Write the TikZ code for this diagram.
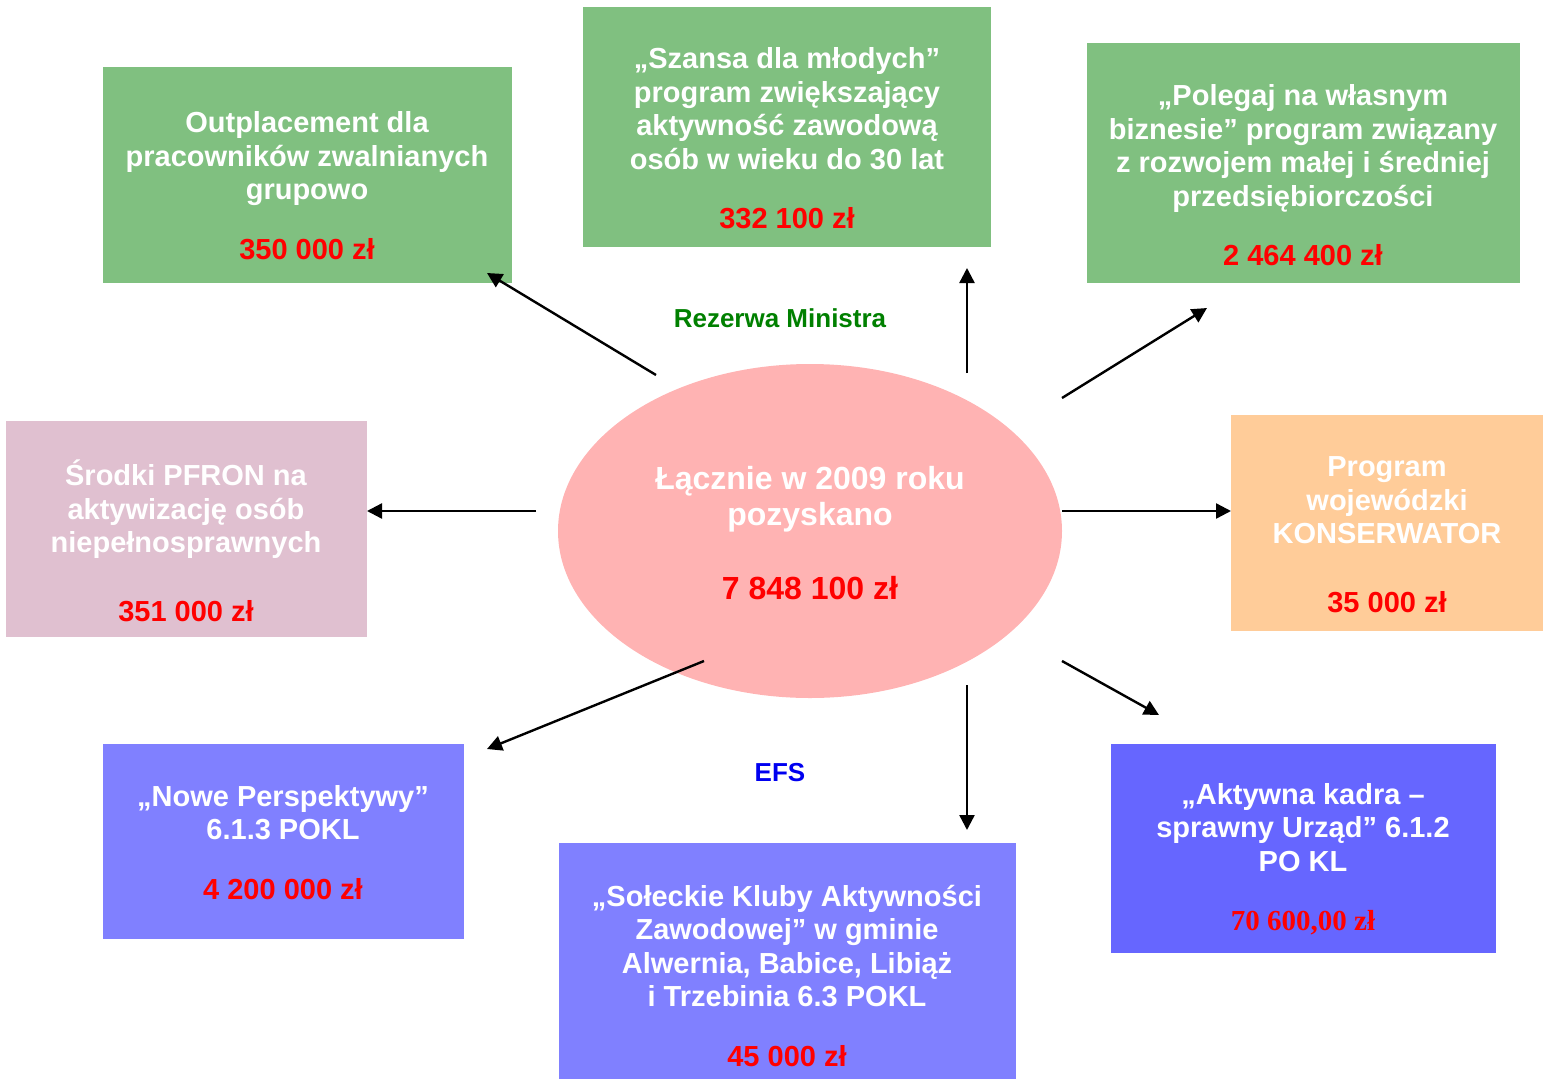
\documentclass[tikz,border=0pt]{standalone}
\usepackage{fontspec}
\setmainfont{Liberation Sans}
\newfontfamily\timesfont{Liberation Serif}
\usetikzlibrary{arrows.meta}
\usetikzlibrary{shapes.geometric,positioning}
\definecolor{boxgreen}{RGB}{128,192,128}
\definecolor{boxpink}{RGB}{224,192,208}
\definecolor{boxorange}{RGB}{255,204,153}
\definecolor{boxlilac}{RGB}{128,128,255}
\definecolor{boxblue}{RGB}{102,102,255}
\definecolor{ovalpink}{RGB}{255,179,179}
\definecolor{moneyred}{RGB}{255,0,0}
\definecolor{ministrygreen}{RGB}{0,128,0}
\definecolor{efsblue}{RGB}{0,0,240}
\tikzset{
	box/.style = {rectangle, inner sep=0pt},
	boxtext/.style = {white, align=center, inner sep=0pt, font=\fontsize{29}{33.5}\selectfont\bfseries},
	fundname/.style = {inner sep=0pt, font=\fontsize{26}{30}\selectfont\bfseries},
	flow/.style = {-{Triangle[length=15pt,width=15pt]}, line width=2.4pt}
}

\begin{document}
\begin{tikzpicture}[x=1pt,y=-1pt]
	\useasboundingbox (0,0) rectangle (1543,1079);
	% boxes
	\node[box, fill=boxgreen, minimum width=409pt, minimum height=216pt] (outpl) at (307.5,175) {};
	\node[box, fill=boxgreen, minimum width=408pt, minimum height=240pt] (szansa) at (787,127) {};
	\node[box, fill=boxgreen, minimum width=433pt, minimum height=240pt] (polegaj) at (1303.5,163) {};
	\node[box, fill=boxpink, minimum width=361pt, minimum height=216pt] (pfron) at (186.5,529) {};
	\node[box, fill=boxorange, minimum width=312pt, minimum height=216pt] (konserw) at (1387,523) {};
	\node[box, fill=boxlilac, minimum width=361pt, minimum height=195pt] (nowe) at (283.5,841.5) {};
	\node[box, fill=boxlilac, minimum width=457pt, minimum height=236pt] (soleckie) at (787.5,961) {};
	\node[box, fill=boxblue, minimum width=385pt, minimum height=209pt] (kadra) at (1303.5,848.5) {};
	\node[ellipse, fill=ovalpink, inner sep=0pt, minimum width=504pt, minimum height=334pt] (total) at (810,531) {};
	% texts
	\node[boxtext] (outpl-t) at (307,185.5) {Outplacement dla\\pracowników zwalnianych\\grupowo\\[26pt]\textcolor{moneyred}{350 000 zł}};
	\node[boxtext] (szansa-t) at (787,138.5) {„Szansa dla młodych”\\program zwiększający\\aktywność zawodową\\osób w wieku do 30 lat\\[26pt]\textcolor{moneyred}{332 100 zł}};
	\node[boxtext] (polegaj-t) at (1303,175.5) {„Polegaj na własnym\\biznesie” program związany\\z rozwojem małej i średniej\\przedsiębiorczości\\[26pt]\textcolor{moneyred}{2 464 400 zł}};
	\node[boxtext] (pfron-t) at (186,541) {Środki PFRON na\\aktywizację osób\\niepełnosprawnych\\[35pt]\textcolor{moneyred}{351 000 zł}};
	\node[boxtext] (konserw-t) at (1387,534.5) {Program\\wojewódzki\\KONSERWATOR\\[35pt]\textcolor{moneyred}{35 000 zł}};
	\node[boxtext] (nowe-t) at (283,842.5) {„Nowe Perspektywy”\\6.1.3 POKL\\[26pt]\textcolor{moneyred}{4 200 000 zł}};
	\node[boxtext] (soleckie-t) at (787,975.5) {„Sołeckie Kluby Aktywności\\Zawodowej” w gminie\\Alwernia, Babice, Libiąż\\i Trzebinia 6.3 POKL\\[26pt]\textcolor{moneyred}{45 000 zł}};
	\node[boxtext] (kadra-t) at (1303,859) {„Aktywna kadra –\\sprawny Urząd” 6.1.2\\PO KL\\[26pt]{\timesfont\textcolor{moneyred}{70 600,00 zł}}};
	\node[boxtext, font=\fontsize{32}{36}\selectfont\bfseries] (total-t) at (810,533) {Łącznie w 2009 roku\\pozyskano\\[38pt]\textcolor{moneyred}{7 848 100 zł}};
	\node[fundname, text=ministrygreen] (rezerwa) at (780,318) {Rezerwa Ministra};
	\node[fundname, text=efsblue] (efs) at (780,773) {EFS};
	% arrows
	\coordinate (to-outpl) at (487,273);
	\coordinate (from-outpl) at (656,375);
	\coordinate (to-szansa) at (967,268);
	\coordinate (from-szansa) at (967,373);
	\coordinate (to-polegaj) at (1207,308);
	\coordinate (from-polegaj) at (1062,398);
	\coordinate (to-pfron) at (367,511);
	\coordinate (from-pfron) at (536,511);
	\coordinate (to-konserw) at (1231,511);
	\coordinate (from-konserw) at (1062,511);
	\coordinate (to-nowe) at (487,749);
	\coordinate (from-nowe) at (704,661);
	\coordinate (to-soleckie) at (967,830);
	\coordinate (from-soleckie) at (967,685);
	\coordinate (to-kadra) at (1159,715);
	\coordinate (from-kadra) at (1062,661);
	\draw[flow] (from-outpl) -- (to-outpl);
	\draw[flow] (from-szansa) -- (to-szansa);
	\draw[flow] (from-polegaj) -- (to-polegaj);
	\draw[flow] (from-pfron) -- (to-pfron);
	\draw[flow] (from-konserw) -- (to-konserw);
	\draw[flow] (from-nowe) -- (to-nowe);
	\draw[flow] (from-soleckie) -- (to-soleckie);
	\draw[flow] (from-kadra) -- (to-kadra);
\end{tikzpicture}
\end{document}
